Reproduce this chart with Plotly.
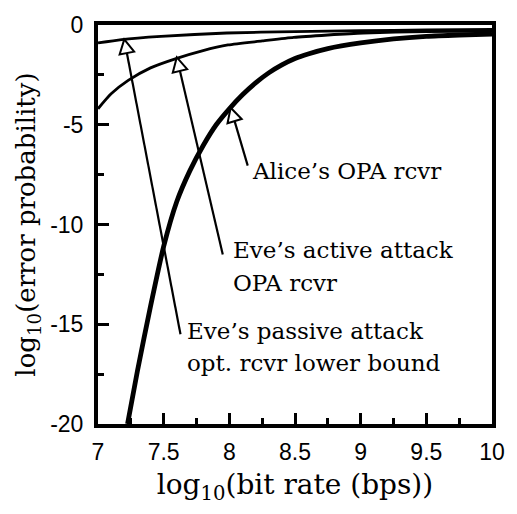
import plotly.graph_objects as go
import math

# ---- data ----
alice_x = [7.225, 7.30, 7.40, 7.50, 7.60, 7.70, 7.80, 7.90, 8.00, 8.10, 8.20, 8.30, 8.40, 8.50,
           8.60, 8.75, 9.00, 9.25, 9.50, 9.75, 10.0]
alice_y = [-20.0, -17.35, -14.1, -11.1, -8.85, -7.3, -6.05, -5.0, -4.2, -3.5, -2.9, -2.4, -2.0, -1.68,
           -1.45, -1.18, -0.9, -0.7, -0.57, -0.5, -0.45]

active_x = [7.0, 7.1, 7.23, 7.4, 7.6, 7.8, 7.99, 8.25, 8.49, 8.75, 9.02, 9.5, 10.0]
active_y = [-4.2, -3.45, -2.78, -2.15, -1.67, -1.28, -1.0, -0.8, -0.62, -0.5, -0.4, -0.33, -0.3]

passive_x = [7.0, 7.18, 7.48, 7.98, 8.5, 9.0, 9.5, 10.0]
passive_y = [-0.9, -0.73, -0.57, -0.4, -0.33, -0.28, -0.25, -0.22]

x_tickvals = [7, 7.5, 8, 8.5, 9, 9.5, 10]
x_ticktext = ["7", "7.5", "8", "8.5", "9", "9.5", "10"]
y_tickvals = [0, -5, -10, -15, -20]
y_ticktext = ["0", "-5", "-10", "-15", "-20"]

# arrows: (tip_x, tip_y, tail_x, tail_y)
arrows = [
    (7.20, -0.72, 7.628, -15.5),   # Eve's passive
    (7.60, -1.62, 7.95, -11.5),    # Eve's active
    (8.01, -4.15, 8.14, -7.05),    # Alice
]
# labels: (text, x_left, y_center)
labels = [
    ("Alice\u2019s OPA rcvr", 8.155, -7.3),
    ("Eve\u2019s active attack", 8.0125, -11.3),
    ("OPA rcvr", 8.0125, -12.95),
    ("Eve\u2019s passive attack", 7.66, -15.35),
    ("opt. rcvr lower bound", 7.66, -16.95),
]

W, H = 517, 514
ML, MR, MT, MB = 98, 19, 24, 90
XR = (7, 10)
YR = (-20, 0)
PW, PH = W - ML - MR, H - MT - MB
sx = PW / (XR[1] - XR[0])
sy = PH / (YR[1] - YR[0])

fig = go.Figure()
fig.add_trace(go.Scatter(x=passive_x, y=passive_y, mode="lines",
                         line=dict(color="black", width=2.8, shape="spline", smoothing=0.6), showlegend=False))
fig.add_trace(go.Scatter(x=active_x, y=active_y, mode="lines",
                         line=dict(color="black", width=2.8, shape="spline", smoothing=0.6), showlegend=False))
fig.add_trace(go.Scatter(x=alice_x, y=alice_y, mode="lines",
                         line=dict(color="black", width=4.8, shape="spline", smoothing=0.6), showlegend=False))

shapes = []
HL, HW = 14.0, 7.5  # head length, half width in px
for tx, ty, sx_, sy_ in arrows:
    tpx, tpy = tx * sx, -ty * sy
    spx, spy = sx_ * sx, -sy_ * sy
    dx, dy = tpx - spx, tpy - spy
    n = math.hypot(dx, dy)
    ux, uy = dx / n, dy / n
    bx, by = tpx - HL * ux, tpy - HL * uy
    px_, py_ = -uy, ux
    c1 = (bx + HW * px_, by + HW * py_)
    c2 = (bx - HW * px_, by - HW * py_)
    to_d = lambda p: (p[0] / sx, -p[1] / sy)
    B = to_d((bx, by))
    C1, C2 = to_d(c1), to_d(c2)
    shapes.append(dict(type="line", xref="x", yref="y", x0=sx_, y0=sy_, x1=B[0], y1=B[1],
                       line=dict(color="black", width=2.2)))
    shapes.append(dict(type="path", xref="x", yref="y",
                       path=f"M {tx},{ty} L {C1[0]},{C1[1]} L {C2[0]},{C2[1]} Z",
                       fillcolor="white", line=dict(color="black", width=2)))

annotations = []
for text, lx, ly in labels:
    annotations.append(dict(text=text, x=lx, y=ly, xref="x", yref="y",
                            xanchor="left", yanchor="middle", showarrow=False,
                            font=dict(family="DejaVu Serif", size=23, color="black")))

axis_common = dict(showgrid=False, zeroline=False, showline=True, linewidth=4,
                   linecolor="black", mirror=True, ticks="inside", ticklen=11,
                   tickwidth=3, tickcolor="black",
                   tickfont=dict(family="Liberation Sans", size=23, color="black"))

fig.update_layout(
    width=W, height=H,
    margin=dict(l=ML, r=MR, t=MT, b=MB),
    paper_bgcolor="white", plot_bgcolor="white",
    shapes=shapes, annotations=annotations,
    xaxis=dict(range=list(XR), tickmode="array", tickvals=x_tickvals, ticktext=x_ticktext,
               minor=dict(dtick=0.25, tick0=7, ticks="inside", ticklen=6, tickwidth=3, tickcolor="black"),
               title=dict(text="log<sub>10</sub>(bit rate (bps))",
                          font=dict(family="DejaVu Serif", size=28, color="black"), standoff=12),
               ticklabelstandoff=4,
               **axis_common),
    yaxis=dict(range=list(YR), tickmode="array", tickvals=y_tickvals, ticktext=y_ticktext,
               minor=dict(dtick=2.5, tick0=0, ticks="inside", ticklen=6, tickwidth=3, tickcolor="black"),
               title=dict(text="log<sub>10</sub>(error probability)",
                          font=dict(family="DejaVu Serif", size=26, color="black"), standoff=8),
               ticklabelstandoff=6,
               **axis_common),
)

fig.write_html("out.html")
